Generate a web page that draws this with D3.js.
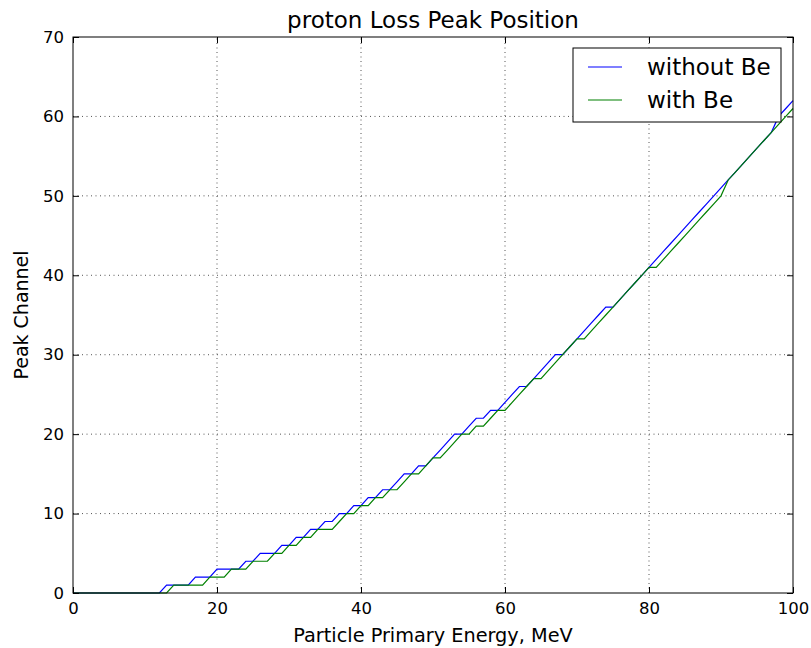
<!DOCTYPE html>
<html>
<head>
<meta charset="utf-8">
<script src="https://cdnjs.cloudflare.com/ajax/libs/d3/7.8.5/d3.min.js"></script>
<style>
    body { margin: 0; background: #fff; }
    text { font-family: "DejaVu Sans", sans-serif; fill: #000; }
</style>
</head>
<body>
<div id="chart"></div>
<script>
// energies sampled every MeV
var energy = [
    0, 1, 2, 3, 4, 5, 6, 7, 8, 9,
    10, 11, 12, 13, 14, 15, 16, 17, 18, 19,
    20, 21, 22, 23, 24, 25, 26, 27, 28, 29,
    30, 31, 32, 33, 34, 35, 36, 37, 38, 39,
    40, 41, 42, 43, 44, 45, 46, 47, 48, 49,
    50, 51, 52, 53, 54, 55, 56, 57, 58, 59,
    60, 61, 62, 63, 64, 65, 66, 67, 68, 69,
    70, 71, 72, 73, 74, 75, 76, 77, 78, 79,
    80, 81, 82, 83, 84, 85, 86, 87, 88, 89,
    90, 91, 92, 93, 94, 95, 96, 97, 98, 99, 100];

var withoutBe = [
    0, 0, 0, 0, 0, 0, 0, 0, 0, 0,
    0, 0, 0, 1, 1, 1, 1, 2, 2, 2,
    3, 3, 3, 3, 4, 4, 5, 5, 5, 6,
    6, 7, 7, 8, 8, 9, 9, 10, 10, 11,
    11, 12, 12, 13, 13, 14, 15, 15, 16, 16,
    17, 18, 19, 20, 20, 21, 22, 22, 23, 23,
    24, 25, 26, 26, 27, 28, 29, 30, 30, 31,
    32, 33, 34, 35, 36, 36, 37, 38, 39, 40,
    41, 42, 43, 44, 45, 46, 47, 48, 49, 50,
    51, 52, 53, 54, 55, 56, 57, 58, 60, 61, 62];

var withBe = [
    0, 0, 0, 0, 0, 0, 0, 0, 0, 0,
    0, 0, 0, 0, 1, 1, 1, 1, 1, 2,
    2, 2, 3, 3, 3, 4, 4, 4, 5, 5,
    6, 6, 7, 7, 8, 8, 8, 9, 10, 10,
    11, 11, 12, 12, 13, 13, 14, 15, 15, 16,
    17, 17, 18, 19, 20, 20, 21, 21, 22, 23,
    23, 24, 25, 26, 27, 27, 28, 29, 30, 31,
    32, 32, 33, 34, 35, 36, 37, 38, 39, 40,
    41, 41, 42, 43, 44, 45, 46, 47, 48, 49,
    50, 52, 53, 54, 55, 56, 57, 58, 59, 60, 61];

var xTicks = [0, 20, 40, 60, 80, 100];
var yTicks = [0, 10, 20, 30, 40, 50, 60, 70];

var series = [
    { 'lbl': 'without Be', 'color': '#0000ff', 'values': withoutBe },
    { 'lbl': 'with Be', 'color': '#008000', 'values': withBe }];

var width = 811;
var height = 648;
var margin = { top: 37, right: 18, bottom: 55, left: 73 };

var svg = d3.select('#chart').append('svg')
    .attr('width', width)
    .attr('height', height);

var x = d3.scaleLinear().domain([0, 100]).range([margin.left, width - margin.right]);
var y = d3.scaleLinear().domain([0, 70]).range([height - margin.bottom, margin.top]);

// dotted grid
svg.append('g').selectAll('line')
    .data(xTicks.slice(1, -1))
    .enter().append('line')
    .attr('x1', function(d) { return x(d); })
    .attr('x2', function(d) { return x(d); })
    .attr('y1', y(0))
    .attr('y2', y(70))
    .style('stroke', '#555')
    .style('stroke-width', 1)
    .style('stroke-dasharray', '1,3.5');

svg.append('g').selectAll('line')
    .data(yTicks.slice(1, -1))
    .enter().append('line')
    .attr('x1', x(0))
    .attr('x2', x(100))
    .attr('y1', function(d) { return y(d); })
    .attr('y2', function(d) { return y(d); })
    .style('stroke', '#555')
    .style('stroke-width', 1)
    .style('stroke-dasharray', '1,3.5');

// lines
var line = d3.line()
    .x(function(d, i) { return x(energy[i]); })
    .y(function(d) { return y(d); });

svg.selectAll('.series')
    .data(series)
    .enter().append('path')
    .attr('class', 'series')
    .attr('d', function(d) { return line(d.values); })
    .style('fill', 'none')
    .style('stroke', function(d) { return d.color; })
    .style('stroke-width', 1.2);

// axes, ticks inside on all four sides
var tickLen = 6;
svg.append('g')
    .attr('transform', 'translate(0,' + y(0) + ')')
    .call(d3.axisBottom(x).tickValues(xTicks).tickSize(-tickLen).tickPadding(9))
    .call(function(g) { g.select('.domain').remove(); })
    .selectAll('text').style('font-size', '16.5px');

svg.append('g')
    .attr('transform', 'translate(0,' + y(70) + ')')
    .call(d3.axisTop(x).tickValues(xTicks).tickSize(-tickLen).tickFormat(''))
    .call(function(g) { g.select('.domain').remove(); });

svg.append('g')
    .attr('transform', 'translate(' + x(0) + ',0)')
    .call(d3.axisLeft(y).tickValues(yTicks).tickSize(-tickLen).tickPadding(9))
    .call(function(g) { g.select('.domain').remove(); })
    .selectAll('text').style('font-size', '16.5px');

svg.append('g')
    .attr('transform', 'translate(' + x(100) + ',0)')
    .call(d3.axisRight(y).tickValues(yTicks).tickSize(-tickLen).tickFormat(''))
    .call(function(g) { g.select('.domain').remove(); });

svg.selectAll('.tick line').style('stroke', '#000');

// frame
svg.append('rect')
    .attr('x', x(0))
    .attr('y', y(70))
    .attr('width', x(100) - x(0))
    .attr('height', y(0) - y(70))
    .style('fill', 'none')
    .style('stroke', '#000')
    .style('stroke-width', 1);

// title and labels
svg.append('text')
    .attr('x', (x(0) + x(100)) / 2)
    .attr('y', 28)
    .attr('text-anchor', 'middle')
    .style('font-size', '23px')
    .text('proton Loss Peak Position');

svg.append('text')
    .attr('x', (x(0) + x(100)) / 2)
    .attr('y', 642)
    .attr('text-anchor', 'middle')
    .style('font-size', '19.3px')
    .text('Particle Primary Energy, MeV');

svg.append('text')
    .attr('transform', 'translate(28,' + (y(0) + y(70)) / 2 + ') rotate(-90)')
    .attr('text-anchor', 'middle')
    .style('font-size', '19px')
    .text('Peak Channel');

// legend
var legend = svg.append('g').attr('transform', 'translate(573,48)');
legend.append('rect')
    .attr('width', 208)
    .attr('height', 74)
    .style('fill', '#fff')
    .style('stroke', '#000')
    .style('stroke-width', 1);

var items = legend.selectAll('.item')
    .data(series)
    .enter().append('g')
    .attr('class', 'item')
    .attr('transform', function(d, i) { return 'translate(0,' + (19 + i * 33) + ')'; });

items.append('line')
    .attr('x1', 15)
    .attr('x2', 49)
    .style('stroke', function(d) { return d.color; })
    .style('stroke-width', 1.2);

items.append('text')
    .attr('x', 74)
    .attr('y', 8)
    .style('font-size', '23px')
    .text(function(d) { return d.lbl; });
</script>
</body>
</html>
